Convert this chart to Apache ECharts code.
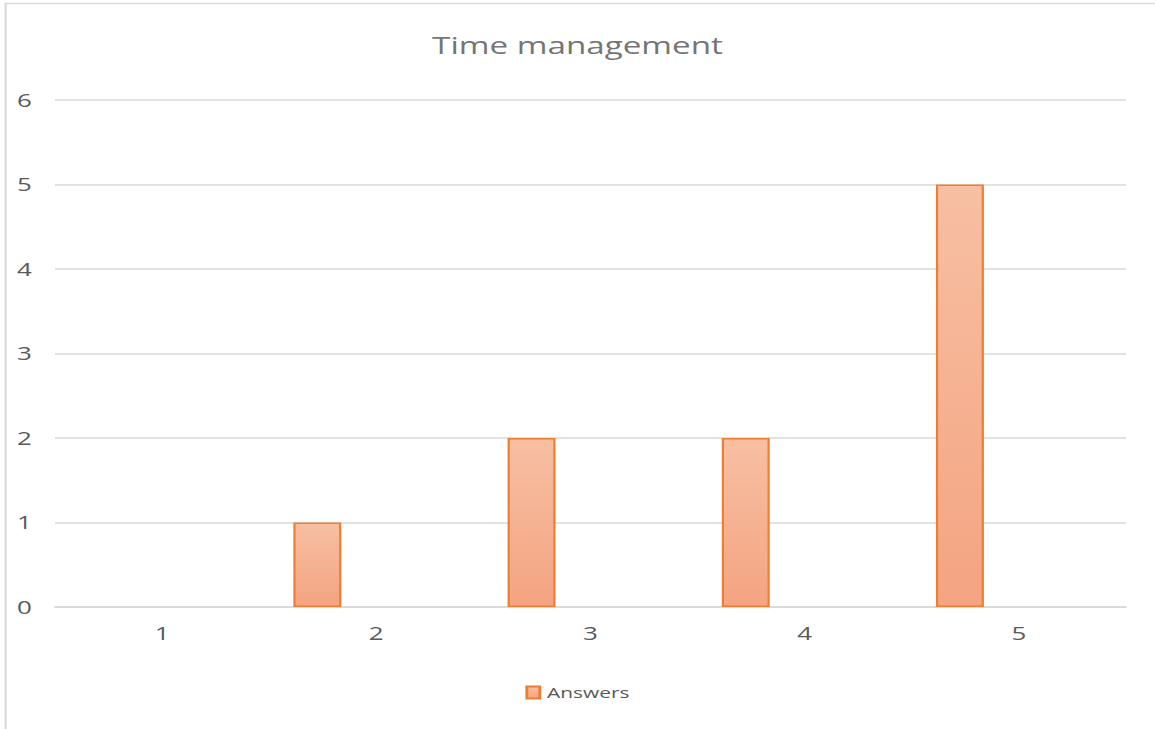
<!DOCTYPE html>
<html>
<head>
<meta charset="utf-8">
<script src="https://cdn.jsdelivr.net/npm/echarts@6/dist/echarts.min.js"></script>
<style>
  html, body { margin: 0; padding: 0; background: #fff; overflow: hidden; }
  /* The chart is laid out 800px wide and stretched across the 1155px page */
  #chart { width: 800px; height: 729px; transform: scaleX(1.44375); transform-origin: 0 0; }
</style>
</head>
<body>
<div id="chart"></div>
<script>
// Rating scale and how many answers each rating received
const ratings = ['1', '2', '3', '4', '5'];
const answers = [0, 1, 2, 2, 5];
// Second slot in each category, left empty
const spare = [null, null, null, null, null];
const yTicks = { min: 0, max: 6, interval: 1 };

const chart = echarts.init(document.getElementById('chart'), null, { renderer: 'svg' });
const font = '"Open Sans", "Noto Sans", sans-serif';

// A zero-height bar gets no outline
const answerItems = answers.map(v => v === 0 ? { value: v, itemStyle: { borderWidth: 0 } } : v);

chart.setOption({
  backgroundColor: '#ffffff',
  animation: false,
  title: {
    text: 'Time management',
    left: 'center',
    top: 28,
    textStyle: { color: '#757575', fontFamily: font, fontWeight: 'normal', fontSize: 23 }
  },
  graphic: [{
    type: 'rect',
    left: 1.4, top: 1,
    shape: { width: 797.6, height: 800 },
    style: { fill: 'none', stroke: '#d9d9d9', lineWidth: 1.5 },
    silent: true
  }],
  legend: {
    data: ['Answers'],
    top: 680,
    left: 'center',
    itemWidth: 9,
    itemHeight: 12,
    icon: 'rect',
    textStyle: { color: '#595959', fontFamily: font, fontSize: 14.5 }
  },
  grid: { left: 38.1, right: 20.1, top: 100, bottom: 122, containLabel: false },
  xAxis: {
    type: 'category',
    data: ratings,
    axisLine: { lineStyle: { color: '#d9d9d9', width: 1.5 } },
    axisTick: { show: false },
    axisLabel: { color: '#595959', fontFamily: font, fontSize: 18, margin: 17 }
  },
  yAxis: {
    type: 'value',
    min: yTicks.min, max: yTicks.max, interval: yTicks.interval,
    axisLine: { show: false },
    axisTick: { show: false },
    splitLine: { lineStyle: { color: '#d9d9d9', width: 1.5 } },
    axisLabel: { color: '#595959', fontFamily: font, fontSize: 18, margin: 16 }
  },
  series: [
    {
      name: 'Answers',
      type: 'bar',
      data: answerItems,
      barWidth: 33.2,
      barGap: '146%',
      itemStyle: {
        color: new echarts.graphic.LinearGradient(0, 0, 0, 1, [
          { offset: 0, color: '#f7bfa3' },
          { offset: 1, color: '#f4a481' }
        ]),
        borderColor: '#ed7d31',
        borderWidth: 1.5
      }
    },
    {
      name: 'spare',
      type: 'bar',
      data: spare,
      barWidth: 33.2,
      itemStyle: { color: 'transparent' }
    }
  ]
});
</script>
</body>
</html>
